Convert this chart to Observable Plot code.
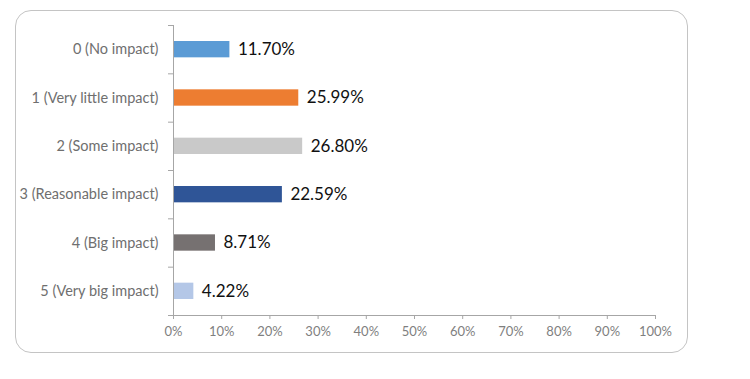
<!DOCTYPE html>
<html>
<head>
<meta charset="utf-8">
<script src="https://cdn.jsdelivr.net/npm/d3@7"></script>
<script src="https://cdn.jsdelivr.net/npm/@observablehq/plot@0.6"></script>
<style>
  html, body { margin: 0; padding: 0; background: #fff; }
  #wrap { position: relative; width: 750px; height: 379px; overflow: hidden; }
  #border { position: absolute; left: 15px; top: 10px; width: 673px; height: 343px;
            border: 1.5px solid #c4c4c4; border-radius: 16px; box-sizing: border-box; }
  #chart { position: absolute; left: 0; top: 0; }
</style>
</head>
<body>
<div id="wrap">
  <div id="border"></div>
  <div id="chart"></div>
</div>
<script>
const categories = ["0 (No impact)", "1 (Very little impact)", "2 (Some impact)", "3 (Reasonable impact)", "4 (Big impact)", "5 (Very big impact)"];
const values = [11.70, 25.99, 26.80, 22.59, 8.71, 4.22];
const colors = ["#5B9BD5", "#ED7D31", "#C9C9C9", "#2F5597", "#767171", "#B4C7E7"];
const xTicks = [0, 10, 20, 30, 40, 50, 60, 70, 80, 90, 100];

const data = categories.map((c, i) => ({cat: c, value: values[i], color: colors[i], idx: i}));
const bounds = d3.range(categories.length + 1);

const font = "Lato, 'Open Sans', sans-serif";

const chart = Plot.plot({
  width: 750,
  height: 379,
  marginLeft: 173,
  marginRight: 95,
  marginTop: 25,
  marginBottom: 64,
  style: {fontFamily: font, background: "transparent", overflow: "visible"},
  x: {domain: [0, 100]},
  y: {type: "linear", domain: [0, categories.length], reverse: true},
  marks: [
    Plot.rectX(data, {x1: 0, x2: "value", y1: "idx", y2: d => d.idx + 1, fill: "color", insetTop: 16, insetBottom: 16}),
    Plot.text(data, {x: "value", y: d => d.idx + 0.5, text: d => d.value.toFixed(2) + "%", textAnchor: "start", dx: 8, fontSize: 17, fill: "#111"}),
    Plot.text(data, {x: 0, y: d => d.idx + 0.5, text: "cat", textAnchor: "end", dx: -15, fontSize: 14.5, fill: "#6f6f6f"}),
    Plot.axisY({ticks: bounds, tickFormat: () => "", tickSize: 5, stroke: "#a6a6a6", strokeOpacity: 1, label: null}),
    Plot.ruleX([0], {y1: 0, y2: categories.length, stroke: "#a6a6a6"}),
    Plot.ruleY([categories.length], {x1: 0, x2: 100, stroke: "#a6a6a6"}),
    Plot.axisX({ticks: xTicks, tickFormat: d => d + "%", tickSize: 4, tickPadding: 7, fontSize: 13, color: "#7f7f7f", stroke: "#a6a6a6", strokeOpacity: 1, label: null})
  ]
});
document.getElementById("chart").appendChild(chart);
</script>
</body>
</html>
